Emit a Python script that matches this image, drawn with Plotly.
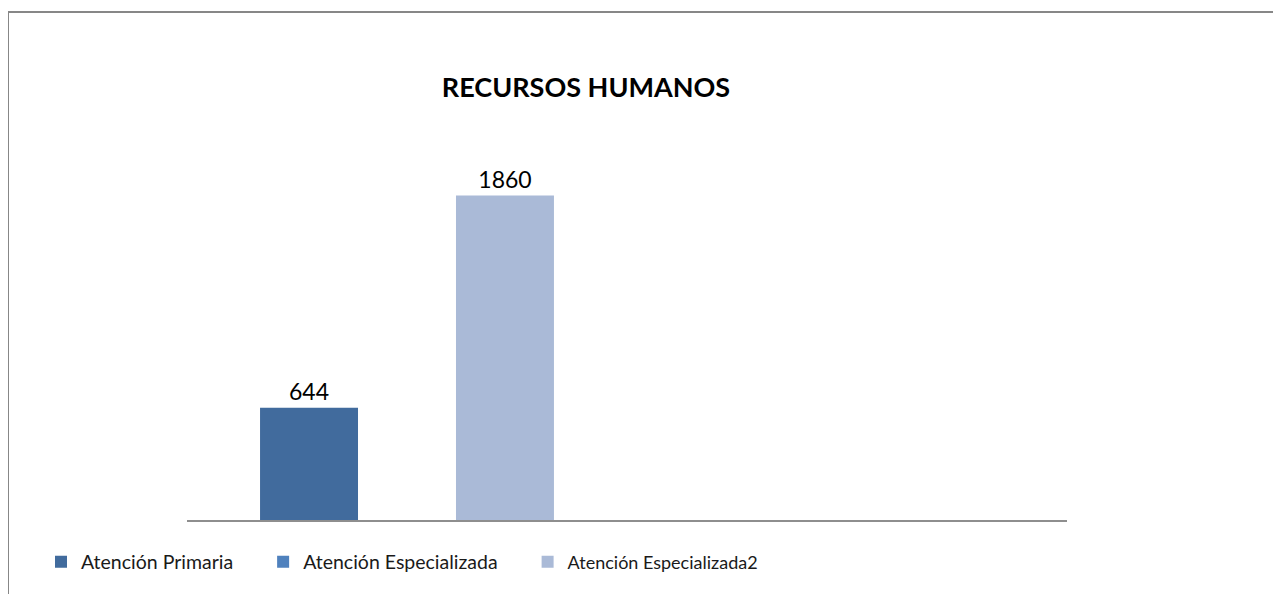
import plotly.graph_objects as go

# Datos del gráfico
categorias = ["1", "2"]
series = ["Atención Primaria", "Atención Especializada", "Atención Especializada2"]
valores = {
    "Atención Primaria": [644, None],
    "Atención Especializada": [None, None],
    "Atención Especializada2": [1860, None],
}
colores = {
    "Atención Primaria": "#416B9D",
    "Atención Especializada": "#4F81BD",
    "Atención Especializada2": "#AABAD7",
}
titulo = "RECURSOS HUMANOS"

# la página tiene 8px de margen en el body: se descuenta aquí
OFF = 8
W, H = 1281 - OFF, 594 - OFF
M_L = 187 - OFF
M_T = 84 - OFF
M_R = 1281 - 1067
M_B = 594 - 520
Y_MAX = 2500
FONT = "Lato, Calibri, 'Open Sans', sans-serif"
PAD = "\u00a0" * 5

fig = go.Figure()
for nombre in series:
    etiqueta = nombre + PAD
    if nombre == "Atención Especializada2":
        etiqueta = '<span style="font-size:18px">' + nombre + "</span>"
    fig.add_trace(
        go.Bar(
            x=categorias,
            y=valores[nombre],
            name=etiqueta,
            marker=dict(color=colores[nombre], line=dict(width=0)),
            text=[str(v) if v is not None else "" for v in valores[nombre]],
            textposition="outside",
            textfont=dict(family=FONT, size=23, color="#000000"),
            cliponaxis=False,
        )
    )

# marco del gráfico (borde gris, sale por la derecha y abajo)
pw = W - M_L - M_R
ph = H - M_T - M_B
fig.add_shape(
    type="rect", xref="paper", yref="paper",
    x0=(8 - OFF - M_L) / pw, x1=(W + 10 - M_L) / pw,
    y0=(H - M_B - (H + 10)) / ph, y1=(H - M_B - (12 - OFF)) / ph,
    line=dict(color="#878787", width=2), fillcolor="rgba(0,0,0,0)",
)

fig.update_layout(
    width=W, height=H,
    margin=dict(l=M_L, r=M_R, t=M_T, b=M_B),
    paper_bgcolor="white", plot_bgcolor="white",
    barmode="group", bargap=0.332, bargroupgap=0,
    title=dict(
        text="<b>" + titulo + "</b>",
        x=(586 - OFF) / W, xanchor="center", xref="container",
        y=1 - (88 - OFF) / H, yanchor="middle", yref="container",
        font=dict(family=FONT, size=27, color="#000000"),
    ),
    showlegend=True,
    legend=dict(
        orientation="h",
        xref="container", yref="container",
        x=(41 - OFF) / W, xanchor="left",
        y=1 - (562 - OFF) / H, yanchor="middle",
        font=dict(family=FONT, size=19.5, color="#1a1a1a"),
        bgcolor="rgba(0,0,0,0)",
        traceorder="normal",
    ),
    font=dict(family=FONT),
)
fig.update_xaxes(
    showline=True, linecolor="#8e8e8e", linewidth=2,
    showticklabels=False, ticks="", showgrid=False, zeroline=False,
)
fig.update_yaxes(
    range=[0, Y_MAX], visible=False, showgrid=False, zeroline=False,
)

fig.write_html("out.html")
